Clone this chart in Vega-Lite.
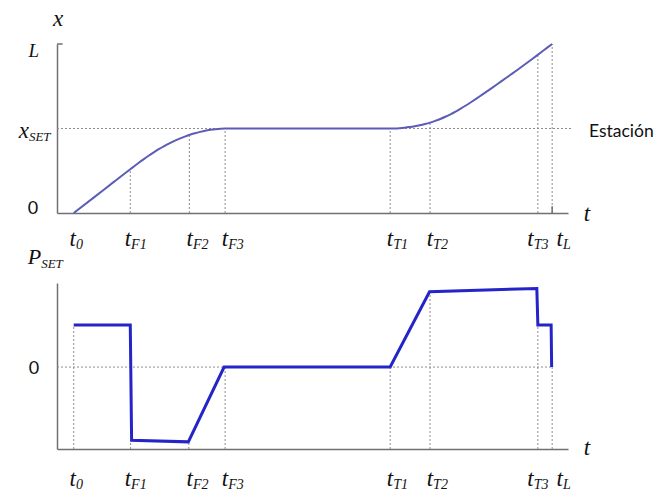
{
  "$schema": "https://vega.github.io/schema/vega-lite/v6.json",
  "padding": {"left": 18, "top": 7, "right": 4, "bottom": 2},
  "config": {
    "view": {"stroke": null},
    "axis": {"domain": true, "ticks": false, "labels": false, "grid": false, "domainColor": "#707070", "domainWidth": 1.5}
  },
  "datasets": {
    "topCurve": [
      {"t": 3.27, "v": 0}, {"t": 7.3, "v": 9.4}, {"t": 11, "v": 18.1}, {"t": 14.34, "v": 25.9},
      {"t": 15, "v": 27.4}, {"t": 16, "v": 29.7}, {"t": 17, "v": 31.9}, {"t": 18, "v": 34.0},
      {"t": 19, "v": 36.0}, {"t": 20, "v": 37.9}, {"t": 21, "v": 39.6}, {"t": 22, "v": 41.2},
      {"t": 23, "v": 42.7}, {"t": 24, "v": 44.0}, {"t": 25, "v": 45.2}, {"t": 26, "v": 46.3},
      {"t": 27, "v": 47.2}, {"t": 28, "v": 48.0}, {"t": 29, "v": 48.7}, {"t": 30, "v": 49.2},
      {"t": 31, "v": 49.6}, {"t": 32, "v": 49.9}, {"t": 32.9, "v": 50}, {"t": 45, "v": 50},
      {"t": 55, "v": 50}, {"t": 65.2, "v": 50}, {"t": 66, "v": 50.04}, {"t": 67, "v": 50.19},
      {"t": 68, "v": 50.45}, {"t": 69, "v": 50.83}, {"t": 70, "v": 51.32}, {"t": 71, "v": 51.93},
      {"t": 72, "v": 52.66}, {"t": 73, "v": 53.5}, {"t": 74, "v": 54.5}, {"t": 75, "v": 55.65},
      {"t": 76, "v": 56.95}, {"t": 77, "v": 58.4}, {"t": 78, "v": 60.0}, {"t": 79, "v": 61.75},
      {"t": 80, "v": 63.6}, {"t": 81, "v": 65.55}, {"t": 82, "v": 67.55}, {"t": 83, "v": 69.6},
      {"t": 84, "v": 71.67}, {"t": 85, "v": 73.76}, {"t": 86, "v": 75.87}, {"t": 87, "v": 78.0},
      {"t": 88, "v": 80.15}, {"t": 89, "v": 82.32}, {"t": 90, "v": 84.5}, {"t": 91, "v": 86.7},
      {"t": 92, "v": 88.92}, {"t": 93, "v": 91.16}, {"t": 94, "v": 93.42}, {"t": 95, "v": 95.7},
      {"t": 96, "v": 97.99}, {"t": 96.9, "v": 100}
    ],
    "topGuides": [
      {"t": 0, "t2": 100.6, "v": 50, "v2": 50},
      {"t": 14.34, "t2": 14.34, "v": 0, "v2": 25.9},
      {"t": 25.9, "t2": 25.9, "v": 0, "v2": 46.2},
      {"t": 32.9, "t2": 32.9, "v": 0, "v2": 50},
      {"t": 65.2, "t2": 65.2, "v": 0, "v2": 50},
      {"t": 73.0, "t2": 73.0, "v": 0, "v2": 53.5},
      {"t": 94.1, "t2": 94.1, "v": 0, "v2": 93.6},
      {"t": 96.9, "t2": 96.9, "v": 0, "v2": 100}
    ],
    "topTicks": [
      {"t": 0, "t2": 1.1, "v": 100, "v2": 100},
      {"t": 96.9, "t2": 96.9, "v": 0, "v2": 4}
    ],
    "topTimeLabels": [
      {"t": 3.7, "v": 0, "sub": "0"}, {"t": 14.5, "v": 0, "sub": "F1"}, {"t": 26.6, "v": 0, "sub": "F2"},
      {"t": 33.5, "v": 0, "sub": "F3"}, {"t": 65.8, "v": 0, "sub": "T1"}, {"t": 73.6, "v": 0, "sub": "T2"},
      {"t": 93.3, "v": 0, "sub": "T3"}, {"t": 99.0, "v": 0, "sub": "L"}
    ],
    "botCurve": [
      {"t": 3.27, "v": 1}, {"t": 14.34, "v": 1}, {"t": 14.6, "v": -1.74}, {"t": 25.7, "v": -1.78},
      {"t": 32.7, "v": 0}, {"t": 65.2, "v": 0}, {"t": 72.9, "v": 1.79}, {"t": 93.9, "v": 1.87},
      {"t": 94.1, "v": 1.0}, {"t": 96.7, "v": 1.0}, {"t": 96.8, "v": 0}
    ],
    "botGuides": [
      {"t": 0, "t2": 96.9, "v": 0, "v2": 0},
      {"t": 3.27, "t2": 3.27, "v": -1.95, "v2": 1},
      {"t": 14.4, "t2": 14.4, "v": -1.95, "v2": -1.74},
      {"t": 25.8, "t2": 25.8, "v": -1.95, "v2": -1.78},
      {"t": 32.9, "t2": 32.9, "v": -1.95, "v2": 0},
      {"t": 65.2, "t2": 65.2, "v": -1.95, "v2": 0},
      {"t": 73.0, "t2": 73.0, "v": -1.95, "v2": 1.79},
      {"t": 94.1, "t2": 94.1, "v": -1.95, "v2": 1.0},
      {"t": 96.9, "t2": 96.9, "v": -1.95, "v2": 0}
    ],
    "botTimeLabels": [
      {"t": 3.7, "v": -1.95, "sub": "0"}, {"t": 14.5, "v": -1.95, "sub": "F1"}, {"t": 26.6, "v": -1.95, "sub": "F2"},
      {"t": 33.5, "v": -1.95, "sub": "F3"}, {"t": 65.8, "v": -1.95, "sub": "T1"}, {"t": 73.6, "v": -1.95, "sub": "T2"},
      {"t": 93.3, "v": -1.95, "sub": "T3"}, {"t": 99.0, "v": -1.95, "sub": "L"}
    ]
  },
  "vconcat": [
    {
      "width": 511,
      "height": 169,
      "encoding": {
        "x": {"field": "t", "type": "quantitative", "title": null, "scale": {"domain": [0, 100], "nice": false, "zero": false}},
        "y": {"field": "v", "type": "quantitative", "title": null, "scale": {"domain": [0, 100], "nice": false, "zero": false}}
      },
      "layer": [
        {
          "data": {"name": "topGuides"},
          "mark": {"type": "rule", "color": "#8c8c8c", "strokeWidth": 1, "strokeDash": [2, 2]},
          "encoding": {"x2": {"field": "t2"}, "y2": {"field": "v2"}}
        },
        {
          "data": {"name": "topTicks"},
          "mark": {"type": "rule", "color": "#707070", "strokeWidth": 1.5},
          "encoding": {"x2": {"field": "t2"}, "y2": {"field": "v2"}}
        },
        {
          "data": {"name": "topCurve"},
          "mark": {"type": "line", "color": "#5c5cb8", "strokeWidth": 2, "interpolate": "monotone"},
          "encoding": {}
        },
        {
          "data": {"name": "topTimeLabels"},
          "mark": {"type": "text", "text": "t", "align": "right", "baseline": "alphabetic", "dy": 33, "font": "Liberation Serif", "fontStyle": "italic", "fontSize": 23, "color": "#111"},
          "encoding": {}
        },
        {
          "data": {"name": "topTimeLabels"},
          "mark": {"type": "text", "align": "left", "baseline": "alphabetic", "dy": 36, "font": "Liberation Serif", "fontStyle": "italic", "fontSize": 14, "color": "#111"},
          "encoding": {"text": {"field": "sub"}}
        },
        {
          "data": {"values": [{"t": 0.2, "v": 110.7, "label": "x"}]},
          "mark": {"type": "text", "align": "center", "baseline": "alphabetic", "font": "Liberation Serif", "fontStyle": "italic", "fontSize": 23, "color": "#111"},
          "encoding": {"text": {"field": "label"}}
        },
        {
          "data": {"values": [{"t": -3.5, "v": 100, "label": "L"}]},
          "mark": {"type": "text", "align": "right", "baseline": "alphabetic", "dy": 13, "font": "Liberation Serif", "fontStyle": "italic", "fontSize": 19, "color": "#111"},
          "encoding": {"text": {"field": "label"}}
        },
        {
          "data": {"values": [{"t": -5.5, "v": 50, "label": "x"}]},
          "mark": {"type": "text", "align": "right", "baseline": "alphabetic", "dy": 9, "font": "Liberation Serif", "fontStyle": "italic", "fontSize": 23, "color": "#111"},
          "encoding": {"text": {"field": "label"}}
        },
        {
          "data": {"values": [{"t": -5.5, "v": 50, "label": "SET"}]},
          "mark": {"type": "text", "align": "left", "baseline": "alphabetic", "dy": 12, "font": "Liberation Serif", "fontStyle": "italic", "fontSize": 13, "color": "#111"},
          "encoding": {"text": {"field": "label"}}
        },
        {
          "data": {"values": [{"t": -3.7, "v": 0, "label": "0"}]},
          "mark": {"type": "text", "align": "right", "baseline": "alphabetic", "dy": 1, "font": "Lato", "fontSize": 18, "color": "#111"},
          "encoding": {"text": {"field": "label"}}
        },
        {
          "data": {"values": [{"t": 104.1, "v": 50, "label": "Estación"}]},
          "mark": {"type": "text", "align": "left", "baseline": "alphabetic", "dy": 8, "font": "Lato", "fontSize": 17.5, "color": "#111"},
          "encoding": {"text": {"field": "label"}}
        },
        {
          "data": {"values": [{"t": 103.1, "v": 0, "label": "t"}]},
          "mark": {"type": "text", "align": "left", "baseline": "alphabetic", "dy": 8, "font": "Liberation Serif", "fontStyle": "italic", "fontSize": 23, "color": "#111"},
          "encoding": {"text": {"field": "label"}}
        }
      ]
    },
    {
      "width": 511,
      "height": 166,
      "encoding": {
        "x": {"field": "t", "type": "quantitative", "title": null, "scale": {"domain": [0, 100], "nice": false, "zero": false}},
        "y": {"field": "v", "type": "quantitative", "title": null, "scale": {"domain": [-1.95, 2.0], "nice": false, "zero": false}}
      },
      "layer": [
        {
          "data": {"name": "botGuides"},
          "mark": {"type": "rule", "color": "#8c8c8c", "strokeWidth": 1, "strokeDash": [2, 2]},
          "encoding": {"x2": {"field": "t2"}, "y2": {"field": "v2"}}
        },
        {
          "data": {"name": "botCurve"},
          "mark": {"type": "line", "color": "#2424c8", "strokeWidth": 3, "interpolate": "linear"},
          "encoding": {}
        },
        {
          "data": {"name": "botTimeLabels"},
          "mark": {"type": "text", "text": "t", "align": "right", "baseline": "alphabetic", "dy": 37, "font": "Liberation Serif", "fontStyle": "italic", "fontSize": 23, "color": "#111"},
          "encoding": {}
        },
        {
          "data": {"name": "botTimeLabels"},
          "mark": {"type": "text", "align": "left", "baseline": "alphabetic", "dy": 40, "font": "Liberation Serif", "fontStyle": "italic", "fontSize": 14, "color": "#111"},
          "encoding": {"text": {"field": "sub"}}
        },
        {
          "data": {"values": [{"t": -3.1, "v": 2.45, "label": "P"}]},
          "mark": {"type": "text", "align": "right", "baseline": "alphabetic", "font": "Liberation Serif", "fontStyle": "italic", "fontSize": 22, "color": "#111"},
          "encoding": {"text": {"field": "label"}}
        },
        {
          "data": {"values": [{"t": -3.1, "v": 2.45, "label": "SET"}]},
          "mark": {"type": "text", "align": "left", "baseline": "alphabetic", "dy": 4, "font": "Liberation Serif", "fontStyle": "italic", "fontSize": 13, "color": "#111"},
          "encoding": {"text": {"field": "label"}}
        },
        {
          "data": {"values": [{"t": -3.5, "v": 0, "label": "0"}]},
          "mark": {"type": "text", "align": "right", "baseline": "alphabetic", "dy": 7, "font": "Lato", "fontSize": 18, "color": "#111"},
          "encoding": {"text": {"field": "label"}}
        },
        {
          "data": {"values": [{"t": 103.1, "v": -1.95, "label": "t"}]},
          "mark": {"type": "text", "align": "left", "baseline": "alphabetic", "dy": 6, "font": "Liberation Serif", "fontStyle": "italic", "fontSize": 23, "color": "#111"},
          "encoding": {"text": {"field": "label"}}
        }
      ]
    }
  ],
  "bounds": "flush",
  "spacing": 70
}
